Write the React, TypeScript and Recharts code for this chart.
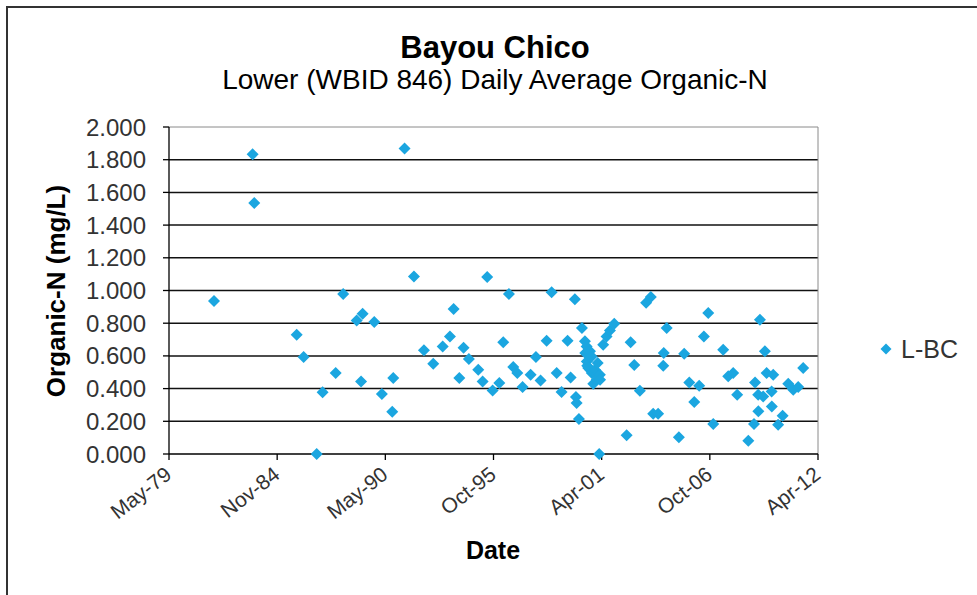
import {
  ReferenceLine,
  Scatter,
  ScatterChart,
  XAxis,
  YAxis,
} from "recharts";

// sampling dates and daily average organic-N (mg/L)
const sampleDates = [
  "1981-09-03", "1983-08-18", "1983-09-17", "1985-11-10", "1986-03-18", "1986-11-15",
  "1987-03-04", "1987-11-01", "1988-03-19", "1988-11-23", "1989-02-12", "1989-03-13",
  "1989-10-14", "1990-03-04", "1990-09-12", "1990-09-30", "1991-04-28", "1991-10-18",
  "1992-04-20", "1992-10-09", "1993-04-01", "1993-08-14", "1993-10-21", "1994-02-03",
  "1994-04-23", "1994-07-30", "1995-01-19", "1995-04-10", "1995-07-03", "1995-10-12",
  "1996-02-12", "1996-04-25", "1996-08-09", "1996-10-27", "1997-01-10", "1997-04-18",
  "1997-09-14", "1997-12-21", "1998-03-16", "1998-07-06", "1998-10-07", "1999-01-08",
  "1999-04-09", "1999-07-28", "1999-09-23", "1999-12-11", "1999-12-30", "2000-01-12",
  "2000-02-24", "2000-04-19", "2000-06-14", "2000-06-20", "2000-07-15", "2000-07-18",
  "2000-07-26", "2000-08-14", "2000-09-15", "2000-09-18", "2000-10-16", "2000-10-19",
  "2000-11-15", "2000-12-16", "2001-01-14", "2001-01-17", "2001-02-05", "2001-03-04",
  "2001-03-17", "2001-03-20", "2001-05-17", "2001-07-19", "2001-09-19", "2001-12-08",
  "2002-07-24", "2002-10-07", "2002-12-13", "2003-03-26", "2003-07-20", "2003-10-15",
  "2003-11-28", "2004-02-27", "2004-06-01", "2004-06-10", "2004-08-03", "2005-03-17",
  "2005-06-23", "2005-09-25", "2005-12-26", "2006-03-27", "2006-06-22", "2006-09-11",
  "2006-12-12", "2007-06-14", "2007-09-15", "2007-12-16", "2008-02-28", "2008-09-20",
  "2009-01-04", "2009-01-23", "2009-03-22", "2009-03-25", "2009-04-23", "2009-06-23",
  "2009-07-24", "2009-08-25", "2009-11-26", "2009-11-29", "2009-12-25", "2010-03-26",
  "2010-06-17", "2010-09-29", "2010-12-30", "2011-04-01", "2011-07-02",
];

const organicN = [
  0.936, 1.833, 1.535, 0.73, 0.593, 0.0,
  0.377, 0.495, 0.979, 0.817, 0.444, 0.858,
  0.807, 0.367, 0.259, 0.465, 1.869, 1.086,
  0.634, 0.552, 0.658, 0.719, 0.887, 0.465,
  0.65, 0.581, 0.516, 0.444, 1.083, 0.389,
  0.434, 0.683, 0.979, 0.532, 0.495, 0.41,
  0.485, 0.593, 0.45, 0.693, 0.989, 0.495,
  0.379, 0.693, 0.468, 0.946, 0.349, 0.312,
  0.214, 0.77, 0.689, 0.618, 0.658, 0.566,
  0.54, 0.526, 0.628, 0.516, 0.597, 0.495,
  0.43, 0.516, 0.485, 0.454, 0.556, 0.0,
  0.485, 0.454, 0.668, 0.719, 0.756, 0.797,
  0.114, 0.683, 0.544, 0.387, 0.925, 0.96,
  0.246, 0.246, 0.54, 0.618, 0.77, 0.102,
  0.613, 0.438, 0.318, 0.418, 0.719, 0.862,
  0.183, 0.638, 0.475, 0.495, 0.363, 0.081,
  0.183, 0.438, 0.363, 0.261, 0.821, 0.352,
  0.628, 0.495, 0.383, 0.291, 0.485, 0.179,
  0.234, 0.43, 0.393, 0.41, 0.526,
];

const xTickDates = ["1979-05-25", "1984-11-14", "1990-05-07", "1995-10-28", "2001-04-19", "2006-10-10", "2012-04-01"];
const xTickLabels = ["May-79", "Nov-84", "May-90", "Oct-95", "Apr-01", "Oct-06", "Apr-12"];
const yTicks = [0, 0.2, 0.4, 0.6, 0.8, 1.0, 1.2, 1.4, 1.6, 1.8, 2.0];
const gridValues = [0.2, 0.4, 0.6, 0.8, 1.0, 1.2, 1.4, 1.6, 1.8];

const toDay = (iso: string) => Date.parse(iso + "T00:00:00Z") / 86400000;

const data = sampleDates.map((d, i) => ({ day: toDay(d), value: organicN[i] }));
const xTicks = xTickDates.map(toDay);

const MARKER = "#1ba6e0";
const TEXT = "#333";
const FONT = '"Liberation Sans", Arial, sans-serif';

function Diamond(props: any) {
  const { cx, cy } = props;
  const r = 6;
  return <polygon points={`${cx},${cy - r} ${cx + r},${cy} ${cx},${cy + r} ${cx - r},${cy}`} fill={MARKER} />;
}

function DateTick(props: any) {
  const { x, y, payload } = props;
  const i = xTicks.indexOf(payload.value);
  const ax = x + 4;
  const ay = y + 15;
  return (
    <text x={ax} y={ay} textAnchor="end" fontSize={21} fill={TEXT} fontFamily={FONT} transform={`rotate(-38 ${ax} ${ay})`}>
      {xTickLabels[i]}
    </text>
  );
}

export default function App() {
  return (
    <div style={{ position: "absolute", left: 0, top: 0, width: 977, height: 595, overflow: "hidden", background: "#fff", fontFamily: FONT }}>
      <div style={{ position: "absolute", left: 6, top: 6, width: 1100, height: 700, borderTop: "2px solid #333", borderLeft: "2px solid #333" }} />
      <div style={{ position: "absolute", left: 0, top: 0 }}>
        <ScatterChart width={977} height={595} margin={{ top: 127, right: 159, bottom: 81, left: 69 }}>
          <XAxis
            type="number"
            dataKey="day"
            domain={[xTicks[0], xTicks[xTicks.length - 1]]}
            ticks={xTicks}
            interval={0}
            height={60}
            tick={<DateTick />}
            tickSize={6}
            axisLine={{ stroke: "#000", strokeWidth: 1.3 }}
            tickLine={{ stroke: "#000", strokeWidth: 1.3 }}
          />
          <YAxis
            type="number"
            dataKey="value"
            domain={[0, 2]}
            ticks={yTicks}
            interval={0}
            width={100}
            tickSize={6}
            tickMargin={17}
            tickFormatter={(v: number) => v.toFixed(3)}
            tick={{ fontSize: 24, fill: TEXT, fontFamily: FONT }}
            axisLine={{ stroke: "#000", strokeWidth: 1.3 }}
            tickLine={{ stroke: "#000", strokeWidth: 1.3 }}
          />
          {gridValues.map((v) => (
            <ReferenceLine key={v} y={v} stroke="#111" strokeWidth={1.5} />
          ))}
          <ReferenceLine y={2} stroke="#8a8a8a" strokeWidth={1} />
          <ReferenceLine x={xTicks[xTicks.length - 1]} stroke="#8a8a8a" strokeWidth={1} />
          <Scatter name="L-BC" data={data} shape={<Diamond />} isAnimationActive={false} />
        </ScatterChart>
      </div>
      <svg width={977} height={595} style={{ position: "absolute", left: 0, top: 0, pointerEvents: "none" }} fontFamily={FONT}>
        <text x={495} y={58} textAnchor="middle" fontSize={31} fontWeight="bold" fill="#000">
          Bayou Chico
        </text>
        <text x={495} y={89} textAnchor="middle" fontSize={28} fill="#000">
          Lower (WBID 846) Daily Average Organic-N
        </text>
        <text x={65} y={291} textAnchor="middle" fontSize={26} fontWeight="bold" fill="#000" transform="rotate(-90 65 291)">
          Organic-N (mg/L)
        </text>
        <text x={493} y={559} textAnchor="middle" fontSize={25} fontWeight="bold" fill="#000">
          Date
        </text>
        <polygon points="886,343.5 891.5,349 886,354.5 880.5,349" fill={MARKER} />
        <text x={901} y={358} fontSize={25} fill={TEXT}>
          L-BC
        </text>
      </svg>
    </div>
  );
}
